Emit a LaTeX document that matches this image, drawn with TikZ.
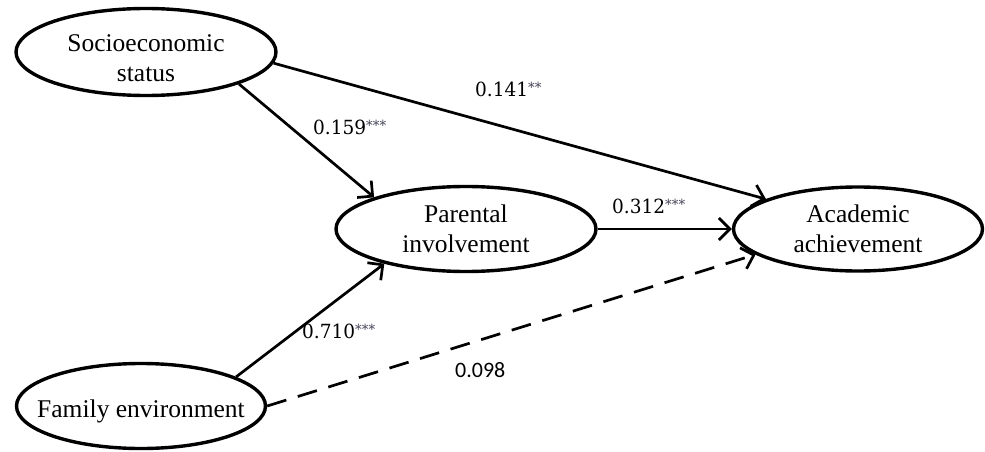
\documentclass[tikz,border=0pt]{standalone}
\usepackage{fontspec}
\setmainfont{Liberation Serif}
\newfontfamily\numfont[FakeStretch=0.95]{DejaVu Serif}
\newfontfamily\calfont{Carlito}
\usetikzlibrary{shapes.geometric,arrows.meta}
\definecolor{stargray}{RGB}{70,70,90}
\newcommand\ovl[2]{\makebox[0pt]{\raisebox{#1}[0pt][0pt]{\begin{tabular}{@{}c@{}}#2\end{tabular}}}}
\newcommand\stars[1]{\raisebox{3.5pt}{\fontsize{14}{14}\selectfont\color{stargray}#1}}
\begin{document}
\begin{tikzpicture}[x=1pt,y=-1pt,
  oval/.style={ellipse, draw, line width=3.4pt, inner sep=0pt, font=\fontsize{25.5}{30}\selectfont},
  arr/.style={line width=2.7pt, -{Straight Barb[length=11pt,width=22pt]}},
  coef/.style={inner sep=0pt, anchor=base west, font=\numfont\fontsize{19.5}{24}\selectfont},
  coefsans/.style={inner sep=0pt, anchor=base west, font=\calfont\fontsize{22}{24}\selectfont},
]
\useasboundingbox (0,0) rectangle (985,452);

\node[oval, minimum width=260pt, minimum height=87pt] (ses) at (146,52) {\ovl{-15pt}{Socioeconomic\\status}};
\node[oval, minimum width=260pt, minimum height=85pt] (pi) at (466,229) {\ovl{-9pt}{Parental\\involvement}};
\node[oval, minimum width=249pt, minimum height=84pt] (aa) at (858,229) {\ovl{-9pt}{Academic\\achievement}};
\node[oval, minimum width=249pt, minimum height=85pt] (fe) at (141,406) {\ovl{-12pt}{Family environment}};

\draw[arr] (ses.-19) -- (pi.161);
\draw[arr] (ses.-5) -- (aa.162);
\draw[arr] (pi.east) -- (aa.west);
\draw[arr] (fe.17) -- (pi.-157);
\draw[arr, dash pattern=on 20pt off 12pt] (fe.east) -- (aa.-166);

\node[coef] (c1) at (475,96) {0.141\stars{**}};
\node[coef] (c2) at (313,134) {0.159\stars{***}};
\node[coef] (c3) at (612,213) {0.312\stars{***}};
\node[coef] (c4) at (302,338) {0.710\stars{***}};
\node[coefsans] (c5) at (455,377) {0.098};
\end{tikzpicture}
\end{document}
